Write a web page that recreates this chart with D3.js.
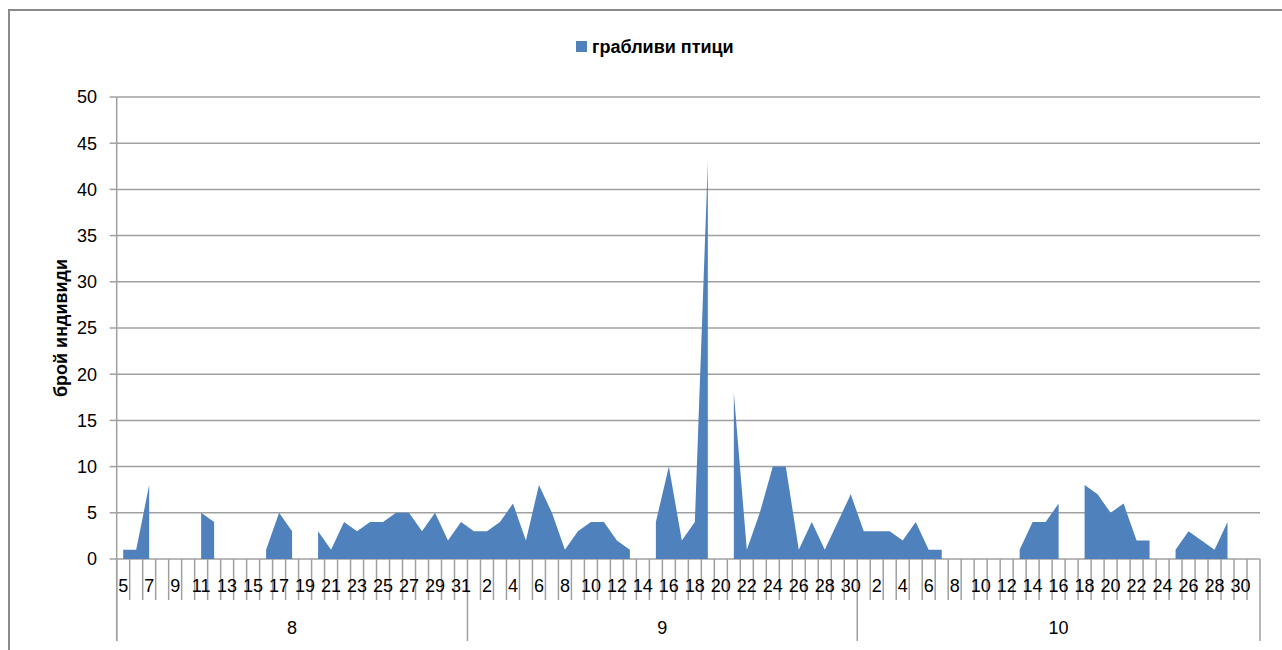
<!DOCTYPE html>
<html>
<head>
<meta charset="utf-8">
<script src="https://cdn.jsdelivr.net/npm/d3@7"></script>
<style>
  html, body { margin: 0; padding: 0; background: #fff; }
  svg { display: block; font-family: "Liberation Sans", Arial, sans-serif; }
</style>
</head>
<body>
<svg id="chart" width="1282" height="650"></svg>
<script>
// Day-of-month categories, grouped by month
const monthLabels = ["8", "9", "10"];
const augDays = [5,6,7,8,9,10,11,12,13,14,15,16,17,18,19,20,21,22,23,24,25,26,27,28,29,30,31];
const sepDays = [1,2,3,4,5,6,7,8,9,10,11,12,13,14,15,16,17,18,19,20,21,22,23,24,25,26,27,28,29,30];
const octDays = [1,2,3,4,5,6,7,8,9,10,11,12,13,14,15,16,17,18,19,20,21,22,23,24,25,26,27,28,29,30,31];

// Number of raptors counted per day (null = no observation)
const augCounts = [1,1,8,null,null,null,5,4,null,null,null,1,5,3,null,3,1,4,3,4,4,5,5,3,5,2,4];
const sepCounts = [3,3,4,6,2,8,5,1,3,4,4,2,1,null,4,10,2,4,43,null,18,1,5,10,10,1,4,1,4,7];
const octCounts = [3,3,3,2,4,1,1,null,null,null,null,null,1,4,4,6,null,8,7,5,6,2,2,null,1,3,2,1,4,null,null];

const seriesName = "грабливи птици";
const axisTitle = "брой индивиди";
const yTicks = [0,5,10,15,20,25,30,35,40,45,50];

// Flat category table built from the arrays above
const months = [augDays, sepDays, octDays];
const counts = [augCounts, sepCounts, octCounts];
const rows = [];
months.forEach((days, m) => days.forEach((d, k) => rows.push({ month: m, day: d, value: counts[m][k] })));
rows.forEach((r, i) => r.i = i);

const svg = d3.select("#chart");
const plot = { left: 116.7, right: 1260, top: 97, bottom: 559 };

const x = d3.scaleBand().domain(rows.map(r => r.i)).range([plot.left, plot.right]).paddingInner(0).paddingOuter(0);
const y = d3.scaleLinear().domain([0, 50]).range([plot.bottom, plot.top]);
const cx = i => x(i) + x.bandwidth() / 2;

// Outer chart frame
svg.append("path")
  .attr("d", "M9,650 L9,10 L1282,10")
  .attr("fill", "none").attr("stroke", "#8a8a8a").attr("stroke-width", 2);

// Horizontal gridlines
svg.append("g").selectAll("line").data(yTicks).join("line")
  .attr("x1", plot.left).attr("x2", plot.right)
  .attr("y1", d => y(d)).attr("y2", d => y(d))
  .attr("stroke", "#a0a0a0").attr("stroke-width", 1.5);

// Area series, broken where days are missing
const area = d3.area()
  .defined(d => d.value != null)
  .x(d => cx(d.i))
  .y0(y(0))
  .y1(d => y(d.value));

svg.append("path")
  .datum(rows)
  .attr("d", area)
  .attr("fill", "#4f81bd");

// Value axis
const yAxisG = svg.append("g");
yAxisG.append("line")
  .attr("x1", plot.left).attr("x2", plot.left)
  .attr("y1", plot.top).attr("y2", 641)
  .attr("stroke", "#a0a0a0").attr("stroke-width", 1.5);
yAxisG.selectAll("line.tick").data(yTicks).join("line")
  .attr("class", "tick")
  .attr("x1", plot.left - 7).attr("x2", plot.left)
  .attr("y1", d => y(d)).attr("y2", d => y(d))
  .attr("stroke", "#a0a0a0").attr("stroke-width", 1.5);
yAxisG.selectAll("text").data(yTicks).join("text")
  .attr("x", 97).attr("y", d => y(d))
  .attr("dy", "0.35em")
  .attr("text-anchor", "end")
  .attr("font-size", 18)
  .attr("fill", "#000")
  .text(d => d);

// Category axis: day ticks and labels
const boundaries = rows.map(r => r.i).concat([rows.length]);
const bx = b => b < rows.length ? x(b) : plot.right;
const monthStarts = new Set([0, augDays.length, augDays.length + sepDays.length, rows.length]);

const xAxisG = svg.append("g");
xAxisG.selectAll("line").data(boundaries).join("line")
  .attr("x1", bx).attr("x2", bx)
  .attr("y1", plot.bottom)
  .attr("y2", b => monthStarts.has(b) ? 641 : 600)
  .attr("stroke", "#a0a0a0").attr("stroke-width", 1.5);

xAxisG.selectAll("text.day").data(rows.filter(r => r.i % 2 === 0)).join("text")
  .attr("class", "day")
  .attr("x", r => cx(r.i)).attr("y", 586)
  .attr("dy", "0.35em")
  .attr("text-anchor", "middle")
  .attr("font-size", 18)
  .attr("fill", "#000")
  .text(r => r.day);

// Month group labels
let startIdx = 0;
const groups = months.map((days, m) => {
  const g = { label: monthLabels[m], from: startIdx, to: startIdx + days.length };
  startIdx += days.length;
  return g;
});
xAxisG.selectAll("text.month").data(groups).join("text")
  .attr("class", "month")
  .attr("x", g => (bx(g.from) + bx(g.to)) / 2).attr("y", 628)
  .attr("dy", "0.35em")
  .attr("text-anchor", "middle")
  .attr("font-size", 18)
  .attr("fill", "#000")
  .text(g => g.label);

// Axis title
svg.append("text")
  .attr("transform", "translate(61,328) rotate(-90)")
  .attr("text-anchor", "middle")
  .attr("dy", "0.35em")
  .attr("font-size", 18)
  .attr("font-weight", "bold")
  .attr("fill", "#000")
  .text(axisTitle);

// Legend
const legend = svg.append("g");
legend.append("rect")
  .attr("x", 576).attr("y", 41).attr("width", 11).attr("height", 11)
  .attr("fill", "#4f81bd");
legend.append("text")
  .attr("x", 592).attr("y", 46.5)
  .attr("dy", "0.35em")
  .attr("font-size", 18)
  .attr("font-weight", "bold")
  .attr("fill", "#000")
  .text(seriesName);
</script>
</body>
</html>
